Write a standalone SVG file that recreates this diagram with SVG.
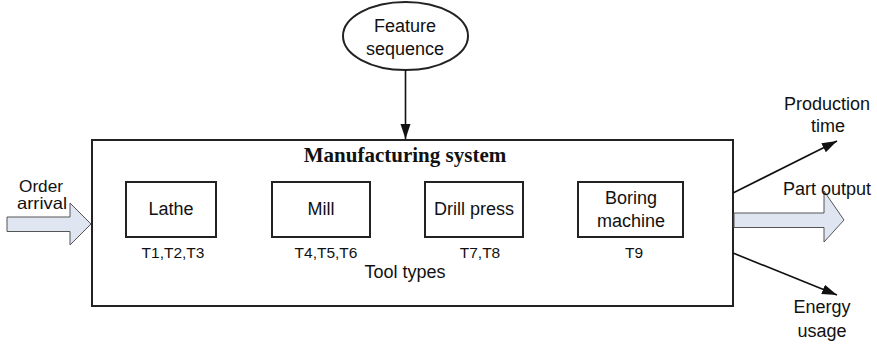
<svg xmlns="http://www.w3.org/2000/svg" width="877" height="358" viewBox="0 0 877 358">
<defs>
<style>
.t{font-family:"Liberation Sans",Arial,sans-serif;font-size:18px;fill:#111;text-anchor:middle}
.o{font-family:"Liberation Sans",Arial,sans-serif;font-size:16.5px;fill:#111;text-anchor:middle}
.s{font-family:"Liberation Sans",Arial,sans-serif;font-size:15.5px;fill:#111;text-anchor:middle}
.b{font-family:"Liberation Serif","Times New Roman",serif;font-size:21px;font-weight:bold;fill:#111;text-anchor:middle}
.box{fill:#fff;stroke:#222;stroke-width:2}
.ln{stroke:#111;stroke-width:1.6;fill:none}
.fat{fill:#dfe6f2;stroke:#555;stroke-width:1}
</style>
<marker id="ah" markerWidth="16" markerHeight="12" refX="15" refY="5" orient="auto" markerUnits="userSpaceOnUse">
<path d="M0,0 L15,5 L0,10 Z" fill="#111"/>
</marker>
</defs>
<rect width="877" height="358" fill="#fff"/>
<g id="system">
<rect class="box" x="92" y="140" width="641" height="166"/>
<text class="b" x="405" y="162">Manufacturing system</text>
<text class="t" x="405" y="278">Tool types</text>
</g>
<g id="feature">
<ellipse cx="405.5" cy="36" rx="62.5" ry="34" fill="#fff" stroke="#222" stroke-width="2"/>
<text class="t" x="405" y="32">Feature</text>
<text class="t" x="405" y="55">sequence</text>
</g>
<g id="lathe">
<rect class="box" x="126" y="182" width="90" height="55"/>
<text class="t" x="171" y="215">Lathe</text>
<text class="s" x="173" y="258">T1,T2,T3</text>
</g>
<g id="mill">
<rect class="box" x="272" y="182" width="98" height="55"/>
<text class="t" x="321" y="215">Mill</text>
<text class="s" x="326" y="258">T4,T5,T6</text>
</g>
<g id="drill">
<rect class="box" x="425" y="182" width="98" height="55"/>
<text class="t" x="474" y="215">Drill press</text>
<text class="s" x="480" y="258">T7,T8</text>
</g>
<g id="boring">
<rect class="box" x="578" y="182" width="105" height="55"/>
<text class="t" x="631" y="204">Boring</text>
<text class="t" x="631" y="227">machine</text>
<text class="s" x="634" y="258">T9</text>
</g>
<g id="connectors">
<line class="ln" x1="405.5" y1="70" x2="405.5" y2="139" marker-end="url(#ah)"/>
<polygon class="fat" points="7,217 70,217 70,203 91,224 70,245 70,231.5 7,231.5"/>
<line class="ln" x1="733" y1="193" x2="837" y2="141" marker-end="url(#ah)"/>
<line class="ln" x1="733" y1="253" x2="837" y2="295" marker-end="url(#ah)"/>
<polygon class="fat" points="734,213 824,213 824,191 844,220 824,242 824,227.5 734,227.5"/>
</g>
<g id="labels">
<text class="o" x="41" y="191.5" textLength="44" lengthAdjust="spacingAndGlyphs">Order</text>
<text class="o" x="42" y="209" textLength="50" lengthAdjust="spacingAndGlyphs">arrival</text>
<text class="t" x="827" y="110">Production</text>
<text class="t" x="828" y="132">time</text>
<text class="t" x="827" y="195">Part output</text>
<text class="t" x="822" y="313">Energy</text>
<text class="t" x="822" y="337">usage</text>
</g>
</svg>
